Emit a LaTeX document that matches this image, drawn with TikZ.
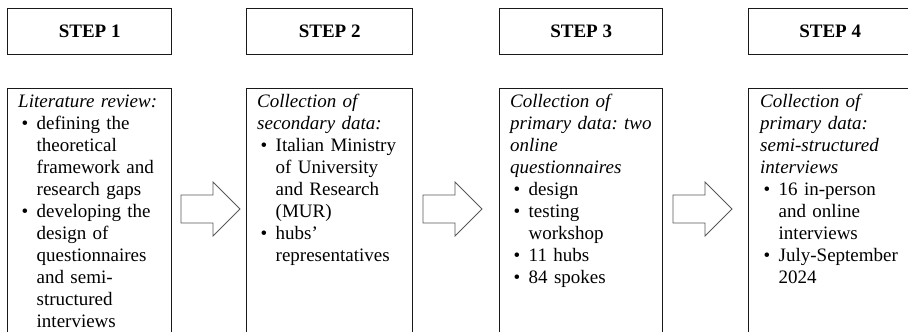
\documentclass[tikz,border=0pt]{standalone}
\usepackage{fontspec}
\setmainfont{Liberation Serif}
\frenchspacing
\begin{document}
\begin{tikzpicture}[x=1pt,y=-1pt,
  hdr/.style={draw=black!90,line width=1.4pt,inner sep=0pt,minimum width=#1,minimum height=46pt,anchor=north west},
  hdrtxt/.style={font=\fontsize{19}{22}\selectfont\bfseries},
  body/.style={draw=black!90,line width=1.4pt,inner sep=0pt,minimum width=#1,minimum height=260pt,anchor=north west},
  txt/.style={inner sep=0pt,anchor=base west,align=left,text width=150pt,font=\fontsize{19}{22}\selectfont},
  blk/.style={draw=black!65,line width=0.8pt,fill=white,line join=miter}]
\newcommand{\bul}{\makebox[18.5pt][l]{\hspace{3.5pt}\textbullet}}
\newcommand{\ind}{\hspace*{18.5pt}}
\useasboundingbox (0,0) rectangle (908,332);
\clip (0,0) rectangle (908,332);
% headers
\node[hdr=164pt] (h1) at (7,8) {};
\node[hdr=166pt] (h2) at (246,8) {};
\node[hdr=163pt] (h3) at (499,8) {};
\node[hdr=163pt] (h4) at (748,8) {};
\node[hdrtxt] (t1) at (h1.center) {STEP 1};
\node[hdrtxt] (t2) at (h2.center) {STEP 2};
\node[hdrtxt] (t3) at (h3.center) {STEP 3};
\node[hdrtxt] (t4) at (h4.center) {STEP 4};
% bodies
\node[body=164pt] (b1) at (7,88) {};
\node[body=166pt] (b2) at (246,88) {};
\node[body=163pt] (b3) at (499,88) {};
\node[body=163pt] (b4) at (748,88) {};
% texts
\node[txt] (x1) at (18,107) {\textit{Literature review:}\\
\bul defining the\\ \ind theoretical\\ \ind framework and\\ \ind research gaps\\
\bul developing the\\ \ind design of\\ \ind questionnaires\\ \ind and semi-\\ \ind structured\\ \ind interviews};
\node[txt] (x2) at (257,107) {\textit{Collection of}\\ \textit{secondary data:}\\
\bul Italian Ministry\\ \ind of University\\ \ind and Research\\ \ind (MUR)\\
\bul hubs’\\ \ind representatives};
\node[txt] (x3) at (510,107) {\textit{Collection of}\\ \textit{primary data: two}\\ \textit{online}\\ \textit{questionnaires}\\
\bul design\\ \bul testing\\ \ind workshop\\ \bul 11 hubs\\ \bul 84 spokes};
\node[txt] (x4) at (760,107) {\textit{Collection of}\\ \textit{primary data:}\\ \textit{semi-structured}\\ \textit{interviews}\\
\bul 16 in-person\\ \ind and online\\ \ind interviews\\ \bul July-September\\ \ind 2024};
% block arrows
\foreach \n/\xa in {a1/181,a2/423,a3/673}{
  \coordinate (\n) at (\xa,209);
  \draw[blk] (\n) ++(0,-14) -- ++(32,0) -- ++(0,-13) -- ++(27,27) -- ++(-27,27) -- ++(0,-13) -- ++(-32,0) -- cycle;
}
\end{tikzpicture}
\end{document}
